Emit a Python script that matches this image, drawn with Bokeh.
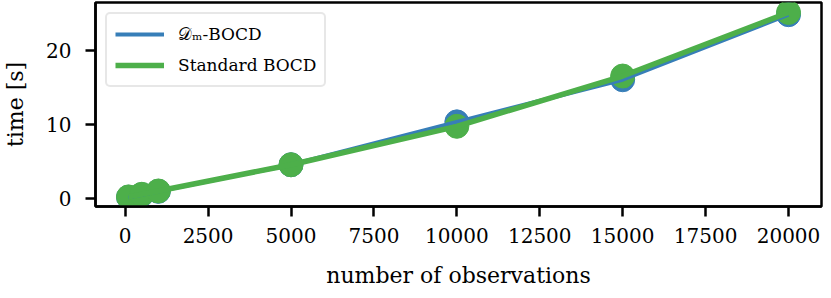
from bokeh.plotting import figure
from bokeh.models import Range1d, FixedTicker, Legend, LegendItem
from bokeh.embed import file_html
from bokeh.resources import INLINE

# ---- data ----
n_obs = [100, 500, 1000, 5000, 10000, 15000, 20000]
time_dm = [0.1, 0.45, 0.9, 4.5, 10.3, 16.0, 24.8]
time_std = [0.15, 0.5, 0.95, 4.5, 9.7, 16.5, 25.1]
x_ticks = [0, 2500, 5000, 7500, 10000, 12500, 15000, 17500, 20000]
y_ticks = [0, 10, 20]
series_labels = ["\U0001D49F\u2098-BOCD", "Standard BOCD"]
x_label = "number of observations"
y_label = "time [s]"

BLUE = "#377eb8"
GREEN = "#4daf4a"
FONT = "DejaVu Serif"

p = figure(width=823, height=290,
           x_range=Range1d(-895, 20995), y_range=Range1d(-1.15, 26.45),
           output_backend="svg", toolbar_location=None,
           min_border_left=94, min_border_right=2, min_border_top=2,
           min_border_bottom=84)

p.xgrid.visible = False
p.ygrid.visible = False
p.outline_line_color = "black"
p.outline_line_width = 2.5
p.background_fill_color = "white"
p.border_fill_color = "white"

# markers below lines (matplotlib zorder)
p.scatter(n_obs, time_dm, size=24, color=BLUE)
p.scatter(n_obs, time_std, size=24, color=GREEN)
r_dm = p.line(n_obs, time_dm, line_width=4, color=BLUE)
r_std = p.line(n_obs, time_std, line_width=5.5, color=GREEN)

for ax in (p.xaxis[0], p.yaxis[0]):
    ax.axis_line_width = 2.5
    ax.axis_line_color = "black"
    ax.major_tick_line_width = 2.5
    ax.major_tick_line_color = "black"
    ax.major_tick_out = 10
    ax.major_tick_in = 0
    ax.minor_tick_line_color = None
    ax.major_label_text_font = FONT
    ax.major_label_text_font_size = "20px"
    ax.major_label_text_color = "black"
    ax.axis_label_text_font = FONT
    ax.axis_label_text_font_size = "22px"
    ax.axis_label_text_font_style = "normal"
    ax.axis_label_text_color = "black"

p.xaxis.ticker = FixedTicker(ticks=x_ticks)
p.yaxis.ticker = FixedTicker(ticks=y_ticks)
p.xaxis.axis_label = x_label
p.yaxis.axis_label = y_label
p.xaxis.major_label_standoff = 11
p.xaxis.axis_label_standoff = 17
p.yaxis.major_label_standoff = 14
p.yaxis.axis_label_standoff = 15

legend = Legend(items=[LegendItem(label=series_labels[0], renderers=[r_dm]),
                       LegendItem(label=series_labels[1], renderers=[r_std])],
                location="top_left", margin=10)
legend.label_text_font = FONT
legend.label_text_font_size = "17px"
legend.label_text_color = "black"
legend.glyph_width = 49
legend.glyph_height = 24
legend.label_height = 24
legend.label_standoff = 14
legend.spacing = 7
legend.padding = 8
legend.border_line_color = "#d0d0d0"
legend.border_line_width = 2
legend.background_fill_alpha = 0.8
try:
    legend.border_radius = 5
except Exception:
    pass
p.add_layout(legend)

open("out.html", "w").write(file_html(p, INLINE))
